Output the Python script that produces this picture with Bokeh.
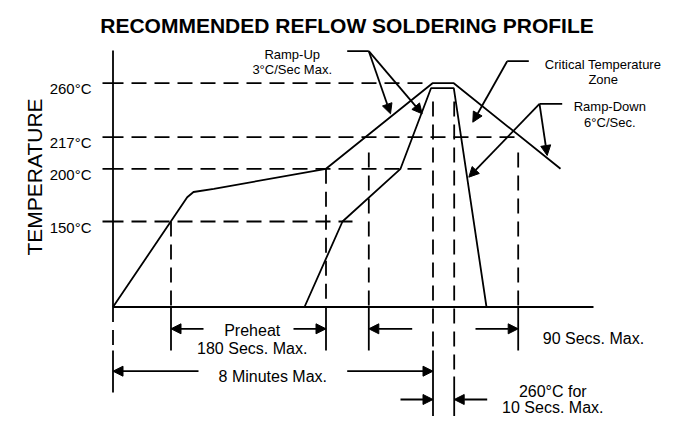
import numpy as np
from bokeh.plotting import figure
from bokeh.models import Range1d, Arrow, NormalHead
from bokeh.core.properties import value
from bokeh.embed import file_html
from bokeh.resources import INLINE

# ---------------- data (schematic reflow profile) ----------------
title = "RECOMMENDED REFLOW SOLDERING PROFILE"
y_title = "TEMPERATURE"

# temperature ticks of the schematic
tick_temps = [150, 200, 217, 260]
tick_labels = ["150°C", "200°C", "217°C", "260°C"]

# schematic (non-linear) temperature scale of the drawing
scale_temps = [0, 150, 200, 217, 260]
scale_rows = [306.5, 221.0, 168.3, 136.7, 82.7]

# outer (slow) profile: time units / temperature
outer_time = [112.5, 186.7, 193.0, 213.3, 325.5, 432.0, 453.3, 560.0]
outer_temp = [0, 173, 178, 181, 200, 260, 260, 200]
# inner (fast) profile
inner_time = [304.0, 342.0, 400.0, 430.5, 453.3, 486.0]
inner_temp = [0, 150, 200, 256, 256, 0]

# time markers on the profile
t_origin = 112.5
t_axis_end = 593.0
t_preheat = [170.5, 325.5]
t_liquidus = [368.3, 517.7]
t_peak = [432.5, 453.7]
guide_ends = [430.0, 517.7, 421.0, 352.0]   # end of the dashed temperature guides (260,217,200,150)

# ---------------- helpers ----------------
def ty(t):
    return float(np.interp(t, scale_temps, scale_rows))

BASE = ty(0)
INK = "#000000"
LW = 1.8
DASH = "15 8"
FONT = value("Liberation Sans")

p = figure(width=664, height=416, output_backend="svg", toolbar_location=None,
           x_range=Range1d(0, 664), y_range=Range1d(416, 0),
           x_axis_type=None, y_axis_type=None, min_border=0)
p.xgrid.visible = False
p.ygrid.visible = False
p.outline_line_color = None
p.background_fill_color = "white"

# axes
p.line([t_origin, t_origin], [50.0, BASE], line_color=INK, line_width=LW)
p.line([t_origin, t_axis_end], [BASE, BASE], line_color=INK, line_width=LW)

# ticks and horizontal dashed guides
tick_y = [ty(t) for t in tick_temps]
p.segment(x0=[102] * 4, y0=tick_y, x1=[123] * 4, y1=tick_y, line_color=INK, line_width=LW)
guide_temps = [260, 217, 200, 150]
gy = [ty(t) for t in guide_temps]
p.segment(x0=[131] * 4, y0=gy, x1=guide_ends, y1=gy, line_color=INK, line_width=LW, line_dash=DASH)

# tick labels
p.text(x=[91] * 4, y=[v + 5.6 for v in tick_y], text=tick_labels, text_font=FONT,
       text_font_size=value("15px"), text_align="right", text_baseline="alphabetic", text_color=INK)

# profiles
p.line(outer_time, [ty(t) for t in outer_temp], line_color=INK, line_width=LW)
p.line(inner_time, [ty(t) for t in inner_temp], line_color=INK, line_width=LW)

# vertical guides: dashed part, solid part
v_x = [t_preheat[0], t_preheat[1], t_liquidus[0], t_liquidus[1], t_origin, t_peak[0], t_peak[1]]
v_top = [ty(150), ty(200), 152.0, 152.0, BASE, 101.0, 101.0]
v_mid = [BASE, BASE, BASE, BASE, 350.0, 350.0, 376.0]
v_bot = [350.0, 350.0, 350.0, 350.0, 392.0, 416.0, 416.0]
p.segment(x0=v_x, y0=v_top, x1=v_x, y1=v_mid, line_color=INK, line_width=LW, line_dash=DASH)
p.segment(x0=v_x, y0=v_mid, x1=v_x, y1=v_bot, line_color=INK, line_width=LW)

# dimension arrows
row_a, row_b, row_c = 328.3, 370.7, 399.0
arrows = [
    (203.0, row_a, t_preheat[0], row_a),
    (293.0, row_a, t_preheat[1], row_a),
    (411.7, row_a, t_liquidus[0], row_a),
    (475.0, row_a, t_liquidus[1], row_a),
    (198.0, row_b, t_origin, row_b),
    (346.7, row_b, t_peak[0], row_b),
    (400.0, row_c, t_peak[0], row_c),
    (486.7, row_c, t_peak[1], row_c),
    # callouts
    (368.3, 50.7, 390.0, 113.3),
    (368.3, 50.7, 421.7, 113.3),
    (506.7, 60.7, 472.3, 121.7),
    (539.0, 103.3, 546.7, 155.0),
    (539.0, 103.3, 468.3, 176.7),
]
for x0, y0, x1, y1 in arrows:
    p.add_layout(Arrow(end=NormalHead(size=10, fill_color=INK, line_color=INK, line_width=1),
                       x_start=x0, y_start=y0, x_end=x1, y_end=y1,
                       line_color=INK, line_width=LW))

# callout leader stubs
p.segment(x0=[346.7, 528.3, 561.7], y0=[50.7, 60.7, 103.3],
          x1=[368.3, 506.7, 539.0], y1=[50.7, 60.7, 103.3], line_color=INK, line_width=LW)

# texts
p.text(x=[346.5], y=[25], text=[title], text_font=FONT, text_font_style="bold",
       text_font_size=value("21px"), text_align="center", text_baseline="alphabetic", text_color=INK)
p.text(x=[34], y=[176.5], text=[y_title], angle=np.pi / 2, text_font=FONT,
       text_font_size=value("21px"), text_align="center", text_baseline="alphabetic", text_color=INK)

small_txt = ["Ramp-Up", "3°C/Sec Max.", "Critical Temperature", "Zone", "Ramp-Down", "6°C/Sec."]
small_x = [291.7, 291.7, 602.5, 602.7, 609.3, 609.3]
small_y = [54.0, 69.0, 64.0, 79.3, 106.0, 121.5]
p.text(x=small_x, y=small_y, text=small_txt, text_font=FONT, text_font_size=value("13px"),
       text_align="center", text_baseline="alphabetic", text_color=INK)

big_txt = ["Preheat", "180 Secs. Max.", "8 Minutes Max.", "260°C for", "10 Secs. Max."]
big_x = [251.7, 251.7, 272.3, 552.3, 552.3]
big_y = [329.5, 348.3, 376.0, 391.0, 407.0]
p.text(x=big_x, y=big_y, text=big_txt, text_font=FONT, text_font_size=value("16px"),
       text_align="center", text_baseline="alphabetic", text_color=INK)
p.text(x=[542.3], y=[338.3], text=["90 Secs. Max."], text_font=FONT, text_font_size=value("16px"),
       text_align="left", text_baseline="alphabetic", text_color=INK)

open("out.html", "w").write(file_html(p, INLINE))
